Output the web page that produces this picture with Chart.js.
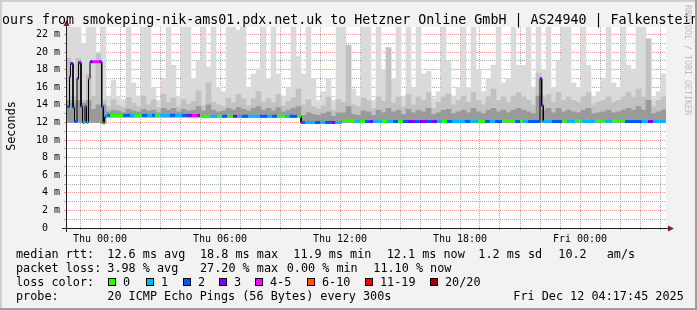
<!DOCTYPE html>
<html><head><meta charset="utf-8">
<script src="https://cdn.jsdelivr.net/npm/chart.js@4/dist/chart.umd.min.js"></script>
<style>html,body{margin:0;padding:0;background:#f2f2f2;}canvas{display:block;}</style>
</head><body>
<canvas id="c" width="697" height="310"></canvas>
<script>
// ---------- text ----------
const TITLE = "Last 30 Hours from smokeping-nik-ams01.pdx.net.uk to Hetzner Online GmbH | AS24940 | Falkenstein";
const Y_TITLE = "Seconds";
const WATERMARK = "RRDTOOL / TOBI OETIKER";

// ---------- time axis (hours relative to Thu 00:00) ----------
const T_START = -1.7, T_END = 28.3;
const BIN_HOURS = 0.25;
const xTickLabels = {0: "Thu 00:00", 6: "Thu 06:00", 12: "Thu 12:00", 18: "Thu 18:00", 24: "Fri 00:00"};

// ---------- loss classes ----------
const lossLabels = ["0", "1", "2", "3", "4-5", "6-10", "11-19", "20/20"];
const lossColors = ["#26ff00", "#00b8ff", "#0059ff", "#7e00ff", "#ff00ff", "#ff5500", "#ff0000", "#a00000"];

// ---------- median rtt (ms): step starts (hours), values, loss class ----------
const medT = [-1.7, -1.525, -1.475, -1.35, -1.275, -1.15, -1.075, -0.95, -0.875, -0.75,
  -0.675, -0.575, -0.5, -0.35, -0.05, 0.085, 0.165, 0.225, 0.3, 0.35,
  0.5, 1.15, 1.5, 1.75, 2.1, 2.35, 2.6, 2.75, 3.0, 3.5,
  3.75, 4.1, 4.35, 4.6, 4.85, 5.0, 5.5, 5.85, 6.1, 6.35,
  6.65, 6.85, 7.1, 7.4, 8.0, 8.35, 8.6, 8.85, 9.25, 9.5,
  9.85, 10.05, 10.25, 10.75, 11.0, 11.25, 11.6, 11.75, 12.1, 12.75,
  13.0, 13.25, 13.5, 13.65, 14.1, 14.35, 14.65, 14.9, 15.15, 15.4,
  15.75, 16.0, 16.35, 16.6, 16.85, 17.1, 17.35, 17.6, 18.25, 18.5,
  18.9, 19.25, 19.5, 19.75, 20.1, 20.75, 21.0, 21.15, 21.4, 22.0,
  22.085, 22.165, 22.6, 23.1, 23.35, 23.75, 24.1, 24.75, 25.25, 25.6,
  26.25, 27.1, 27.4, 27.65];
const medV = [13.8, 17.2, 18.7, 13.7, 12.1, 17.0, 18.8, 13.8, 12.0, 13.8,
  12.0, 17.0, 18.9, 18.9, 18.9, 13.8, 11.9, 12.6, 12.8, 12.8,
  12.8, 12.8, 12.8, 12.8, 12.8, 12.8, 12.8, 12.8, 12.8, 12.8,
  12.8, 12.8, 12.8, 12.8, 12.8, 12.7, 12.7, 12.7, 12.7, 12.7,
  12.7, 12.7, 12.7, 12.7, 12.7, 12.7, 12.7, 12.7, 12.7, 12.7,
  12.7, 12.0, 12.0, 12.0, 12.0, 12.0, 12.0, 12.0, 12.2, 12.1,
  12.1, 12.1, 12.1, 12.1, 12.1, 12.1, 12.1, 12.1, 12.1, 12.1,
  12.1, 12.1, 12.1, 12.1, 12.1, 12.1, 12.1, 12.1, 12.1, 12.1,
  12.1, 12.1, 12.1, 12.1, 12.2, 12.1, 12.2, 12.1, 12.1, 17.0,
  13.9, 12.1, 12.1, 12.2, 12.1, 12.2, 12.1, 12.2, 12.1, 12.2,
  12.1, 12.1, 12.1, 12.1];
const medL = [2, 3, 3, 2, 2, 3, 3, 2, 1, 2,
  1, 5, 3, 4, 3, 2, 0, 2, 1, 2,
  0, 2, 1, 0, 2, 1, 2, 0, 1, 2,
  1, 2, 3, 4, 3, 0, 1, 0, 2, 0,
  3, 1, 2, 1, 2, 1, 2, 0, 1, 2,
  0, 2, 1, 2, 1, 2, 3, 1, 0, 1,
  0, 2, 3, 1, 0, 1, 2, 0, 2, 3,
  2, 3, 2, 3, 1, 0, 2, 1, 2, 1,
  0, 2, 1, 2, 0, 2, 0, 1, 2, 3,
  3, 1, 2, 0, 1, 0, 1, 0, 1, 0,
  2, 1, 3, 1];

// ---------- smoke (ms), 15-minute bins ----------
const smokeFloor = [12, 12, 12, 12, 12, 12, 12, 11.9, 12.6, 12.6,
  12.6, 12.6, 12.6, 12.6, 12.6, 12.6, 12.6, 12.6, 12.6, 12.6,
  12.6, 12.6, 12.6, 12.6, 12.6, 12.6, 12.6, 12.6, 12.6, 12.6,
  12.6, 12.6, 12.6, 12.6, 12.6, 12.6, 12.6, 12.6, 12.6, 12.6,
  12.6, 12.6, 12.6, 12.6, 12.6, 12.6, 12.6, 11.9, 11.9, 11.9,
  11.9, 11.9, 11.9, 11.9, 11.9, 12, 12, 12, 12, 12,
  12, 12, 12, 12, 12, 12, 12, 12, 12, 12,
  12, 12, 12, 12, 12, 12, 12, 12, 12, 12,
  12, 12, 12, 12, 12, 12, 12, 12, 12, 12,
  12, 12, 12, 12, 12, 12, 12, 12, 12, 12,
  12, 12, 12, 12, 12, 12, 12, 12, 12, 12,
  12, 12, 12, 12, 12, 12, 12, 12, 12, 12];
const smokeTop = [23, 23, 23, 21, 23, 23, 20, 23, 15, 16.8,
  15, 14.6, 23, 16.5, 15, 23, 23, 16, 14.5, 17,
  23, 18.5, 15, 23, 23, 17, 19, 23, 18.3, 23,
  16, 15.5, 23, 23, 22.5, 23, 16, 17.5, 18.1, 23,
  17, 23, 17.5, 15, 16, 23, 19.5, 17.5, 23, 17,
  14.5, 15.5, 17, 14.5, 23, 23, 20.8, 15.8, 15, 23,
  23, 14.5, 23, 18, 20.5, 17, 23, 15, 23, 16,
  23, 17.5, 17.8, 14.8, 15.5, 23, 19, 15, 16, 23,
  16, 23, 18, 15.5, 17, 18.5, 23, 16.5, 17, 23,
  18.5, 18.5, 23, 16, 23, 18, 23, 16, 19, 23,
  23, 16.5, 16, 23, 18.5, 15, 15.5, 17, 23, 16.5,
  16, 23, 18.5, 18, 23, 23, 21.5, 14.8, 15.5, 17.5];
const smokeMid = [19.3, 15, 19.3, 14.5, 17.5, 15, 19.8, 14.5, 13.8, 14.6,
  13.9, 13.7, 14.8, 14.2, 13.8, 15, 14, 14.6, 13.7, 15.2,
  14.3, 14.8, 13.8, 14.6, 14.1, 14.4, 15.6, 13.9, 16.5, 14.3,
  14, 13.8, 14.8, 14.2, 15.2, 14.7, 13.9, 14.7, 15.5, 14.3,
  14.7, 14.2, 15.2, 13.9, 14.4, 14.8, 15.8, 14, 14.6, 13.8,
  13.5, 13.9, 14.9, 13.4, 14.6, 14.3, 20.8, 14, 13.8, 14.8,
  14.5, 13.6, 14.9, 14.4, 20.5, 14.2, 14.9, 13.8, 15.2, 14,
  14.9, 14.5, 15.4, 13.6, 14.3, 14.9, 15.2, 14, 14.5, 15,
  14.3, 15.4, 14.5, 14, 14.9, 15.8, 14.5, 14.9, 14.3, 15,
  15.4, 14.9, 14.5, 14, 17.6, 14.9, 15.2, 14.3, 15.4, 14.5,
  14.9, 14.5, 14.3, 14.9, 15.4, 14, 14.3, 14.5, 14.9, 14.3,
  14.5, 14.9, 15.4, 14.9, 15.8, 14.9, 21.5, 13.8, 14.5, 14.9];
const smokeDark = [14.5, 14.2, 14.5, 14.2, 14.5, 13.5, 14, 14, 13.2, 13.4,
  13.3, 13.1, 13.5, 13.3, 13.2, 13.5, 13.3, 13.4, 13.1, 13.6,
  13.4, 13.6, 13.2, 13.5, 13.3, 13.4, 13.8, 13.3, 14, 13.4,
  13.2, 13.3, 13.6, 13.4, 13.7, 13.5, 13.3, 13.6, 13.8, 13.4,
  13.6, 13.3, 13.7, 13.2, 13.4, 13.6, 13.8, 12.8, 13.1, 12.9,
  12.8, 13, 13.2, 12.7, 13.1, 13.1, 13.8, 12.9, 12.8, 13.3,
  13.2, 12.8, 13.4, 13.1, 13.6, 13.2, 13.4, 12.9, 13.5, 13.1,
  13.4, 13.2, 13.6, 12.9, 13.1, 13.4, 13.5, 13, 13.2, 13.4,
  13.1, 13.6, 13.2, 13, 13.4, 13.6, 13.2, 13.4, 13.1, 13.4,
  13.6, 13.4, 13.2, 13, 15, 13.4, 13.6, 13.1, 13.6, 13.2,
  13.4, 13.2, 13.1, 13.4, 13.6, 13, 13.1, 13.2, 13.4, 13.1,
  13.2, 13.4, 13.6, 13.4, 13.8, 13.4, 14.5, 13, 13.2, 13.4];

// ---------- legend statistics ----------
const rttLabel = "median rtt:";
const rttStats = ["12.6 ms avg", "18.8 ms max", "11.9 ms min", "12.1 ms now", "1.2 ms sd", "10.2", "am/s"];
const lossLabel = "packet loss:";
const lossStats = ["3.98 % avg", "27.20 % max", "0.00 % min", "11.10 % now"];
const colorLabel = "loss color:";
const probeLabel = "probe:";
const probeText = "20 ICMP Echo Pings (56 Bytes) every 300s";
const stampText = "Fri Dec 12 04:17:45 2025";

// ---------- layout / style ----------
const W = 697, H = 310;
const AREA = {left: 66, right: 666, top: 27, bottom: 228};
const rttX = [107.3, 200, 293.3, 386.7, 478.3, 558.3, 606.7];
const lossX = [107.3, 200, 286.7, 373.3];
const boxX = [108, 146, 183, 219, 255, 307, 365, 430];
const ROW_Y = [258, 272, 286, 300];
const MONO = "'DejaVu Sans Mono', monospace";
const GRID_MINOR = "rgba(143,143,143,0.75)";
const GRID_MAJOR = "rgba(222,79,79,0.6)";
const SMOKE_LIGHT = "#dadada", SMOKE_MID = "#c2c2c2", SMOKE_DARK = "#9a9a9a";

// ---------- build datasets ----------
const binX = smokeTop.map((_, i) => T_START + BIN_HOURS * (i + 0.5));
const rangeData = (hi) => hi.map((v, i) => ({x: binX[i], y: [smokeFloor[i], v]}));

const medPts = [];
medT.forEach((t, k) => {
  const t1 = k + 1 < medT.length ? medT[k + 1] : T_END;
  medPts.push({x: t, y: medV[k], l: medL[k]}, {x: t1, y: medV[k], l: medL[k]});
});

const hourTicks = [];
for (let h = -1; h <= 28; h++) hourTicks.push(h);
const msTicks = [];
for (let m = 0; m <= 22; m++) msTicks.push(m);

const barCommon = {type: 'bar', grouped: false, barPercentage: 1, categoryPercentage: 1, borderWidth: 0, borderSkipped: false};

const deco = {
  id: 'deco',
  beforeDraw(chart) {
    const {ctx, chartArea: a} = chart;
    ctx.save();
    ctx.fillStyle = '#f2f2f2';
    ctx.fillRect(0, 0, W, H);
    ctx.fillStyle = '#ffffff';
    ctx.fillRect(a.left, a.top, a.right - a.left, a.bottom - a.top);
    ctx.restore();
  },
  afterDraw(chart) {
    const {ctx, chartArea: a} = chart;
    ctx.save();
    // axes
    ctx.strokeStyle = '#1f1f1f';
    ctx.lineWidth = 1;
    ctx.beginPath();
    ctx.moveTo(a.left - 4, a.bottom + 0.5); ctx.lineTo(a.right + 4, a.bottom + 0.5);
    ctx.moveTo(a.left + 0.5, a.bottom + 4); ctx.lineTo(a.left + 0.5, a.top - 4);
    ctx.stroke();
    ctx.fillStyle = '#801f1f';
    ctx.beginPath();
    ctx.moveTo(a.left - 2.5, a.top - 1); ctx.lineTo(a.left + 3.5, a.top - 1); ctx.lineTo(a.left + 0.5, a.top - 7);
    ctx.closePath(); ctx.fill();
    ctx.beginPath();
    ctx.moveTo(a.right + 2, a.bottom - 2.5); ctx.lineTo(a.right + 2, a.bottom + 3.5); ctx.lineTo(a.right + 8, a.bottom + 0.5);
    ctx.closePath(); ctx.fill();

    // title
    ctx.fillStyle = '#000';
    ctx.textBaseline = 'alphabetic';
    ctx.textAlign = 'left';
    ctx.font = "13.3px " + MONO;
    ctx.fillText(TITLE, -70, 24);

    // y title
    ctx.font = "11.8px " + MONO;
    ctx.save();
    ctx.translate(15, 126);
    ctx.rotate(-Math.PI / 2);
    ctx.textAlign = 'center';
    ctx.fillText(Y_TITLE, 0, 0);
    ctx.restore();

    // watermark
    ctx.save();
    ctx.font = "8.3px " + MONO;
    ctx.fillStyle = '#bdbdbd';
    ctx.translate(685, 5);
    ctx.rotate(Math.PI / 2);
    ctx.textAlign = 'left';
    ctx.fillText(WATERMARK, 0, 0);
    ctx.restore();

    // legend
    ctx.font = "11.8px " + MONO;
    ctx.textAlign = 'left';
    ctx.fillStyle = '#000';
    ctx.fillText(rttLabel, 16, ROW_Y[0]);
    rttStats.forEach((s, i) => ctx.fillText(s, rttX[i], ROW_Y[0]));
    ctx.fillText(lossLabel, 16, ROW_Y[1]);
    lossStats.forEach((s, i) => ctx.fillText(s, lossX[i], ROW_Y[1]));
    ctx.fillText(colorLabel, 16, ROW_Y[2]);
    lossLabels.forEach((s, i) => {
      ctx.fillStyle = lossColors[i];
      ctx.fillRect(boxX[i], ROW_Y[2] - 8, 8, 8);
      ctx.strokeStyle = '#000';
      ctx.strokeRect(boxX[i] + 0.5, ROW_Y[2] - 7.5, 7, 7);
      ctx.fillStyle = '#000';
      ctx.fillText(s, boxX[i] + 15, ROW_Y[2]);
    });
    ctx.fillText(probeLabel, 16, ROW_Y[3]);
    ctx.fillText(probeText, 107.3, ROW_Y[3]);
    ctx.fillText(stampText, 513.3, ROW_Y[3]);

    // frame
    ctx.fillStyle = '#cfcfcf';
    ctx.fillRect(0, 0, W, 2);
    ctx.fillRect(0, 0, 2, H);
    ctx.fillStyle = '#9e9e9e';
    ctx.fillRect(0, H - 2, W, 2);
    ctx.fillRect(W - 2, 0, 2, H);
    ctx.restore();
  }
};

new Chart(document.getElementById('c'), {
  type: 'bar',
  data: {
    datasets: [
      {type: 'line', data: medPts, borderWidth: 3, borderColor: lossColors[0], pointRadius: 0,
       tension: 0, order: 0, borderCapStyle: 'butt',
       segment: {borderColor: c => c.p0DataIndex % 2 === 0 ? lossColors[medPts[c.p0DataIndex].l] : 'rgba(0,0,0,0)'}},
      {type: 'line', data: medPts, borderWidth: 1, borderColor: '#000000', pointRadius: 0, tension: 0, order: 1},
      Object.assign({data: rangeData(smokeDark), backgroundColor: SMOKE_DARK, order: 2}, barCommon),
      Object.assign({data: rangeData(smokeMid), backgroundColor: SMOKE_MID, order: 3}, barCommon),
      Object.assign({data: rangeData(smokeTop), backgroundColor: SMOKE_LIGHT, order: 4}, barCommon)
    ]
  },
  options: {
    responsive: false,
    devicePixelRatio: 1,
    animation: false,
    events: [],
    layout: {padding: {left: 0, top: AREA.top, right: W - AREA.right, bottom: 0}},
    plugins: {legend: {display: false}, tooltip: {enabled: false}, title: {display: false}},
    scales: {
      x: {
        type: 'linear', min: T_START, max: T_END, offset: false, z: 1,
        afterFit: s => { s.height = H - AREA.bottom; },
        afterBuildTicks: s => { s.ticks = hourTicks.map(v => ({value: v})); },
        grid: {offset: false, lineWidth: 1, tickLength: 2,
               color: c => (c.tick && c.tick.value % 3 === 0) ? GRID_MAJOR : GRID_MINOR,
               tickColor: c => (c.tick && c.tick.value % 3 === 0) ? GRID_MAJOR : GRID_MINOR},
        border: {display: false, dash: [1, 1]},
        ticks: {autoSkip: false, maxRotation: 0, padding: 3, color: '#000',
                font: {family: MONO, size: 10},
                callback: v => xTickLabels[v] !== undefined ? xTickLabels[v] : ''}
      },
      y: {
        type: 'linear', min: 0, max: 22.85, z: 1,
        afterFit: s => { s.width = AREA.left; },
        afterBuildTicks: s => { s.ticks = msTicks.map(v => ({value: v})); },
        grid: {lineWidth: 1, tickLength: 2,
               color: c => (c.tick && c.tick.value % 2 === 0) ? GRID_MAJOR : GRID_MINOR,
               tickColor: c => (c.tick && c.tick.value % 2 === 0) ? GRID_MAJOR : GRID_MINOR},
        border: {display: false, dash: [1, 1]},
        ticks: {autoSkip: false, padding: 4, color: '#000',
                font: {family: MONO, size: 10},
                callback: v => v % 2 !== 0 ? '' : (v === 0 ? '0  ' : v + ' m')}
      }
    }
  },
  plugins: [deco]
});
</script>
</body></html>
